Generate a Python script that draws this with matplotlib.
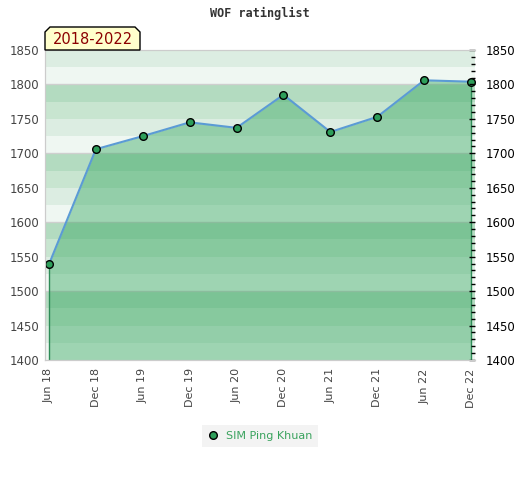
import matplotlib.pyplot as plt
from matplotlib.patches import Polygon

# data
periods = ["Jun 18", "Dec 18", "Jun 19", "Dec 19", "Jun 20",
           "Dec 20", "Jun 21", "Dec 21", "Jun 22", "Dec 22"]
ratings = [1539, 1706, 1725, 1745, 1737, 1785, 1731, 1753, 1806, 1804]
player = "SIM Ping Khuan"
span_label = "2018-2022"
y_min, y_max = 1400, 1850

# band colours by (lower edge mod 100)
band_colors = {0: "#eff7f2", 25: "#dcede2", 50: "#c8e5d0", 75: "#b3dbc0"}
fill_color = "#2ea45a"

fig = plt.figure(figsize=(5.2, 4.8), dpi=100)
ax = fig.add_axes([45 / 520, 120 / 480, 430 / 520, 310 / 480])

x = list(range(len(periods)))

# horizontal bands
for lo in range(y_min, y_max, 25):
    ax.axhspan(lo, lo + 25, color=band_colors[lo % 100], lw=0, zorder=0)
for g in range(y_min + 100, y_max, 100):
    ax.axhline(g, color="#cfcfcf", lw=1, zorder=0.5)

# area under the line
ax.fill_between(x, ratings, y_min, color=fill_color, alpha=0.42, lw=0, zorder=1)
ax.vlines([x[0], x[-1]], y_min, [ratings[0], ratings[-1]],
          color="#2e8b57", lw=1, zorder=2)
ax.plot(x, ratings, color="#5b9bd5", lw=1.5, zorder=3)
ax.plot(x, ratings, "o", ms=5.5, mfc="#2e9e5a", mec="black", mew=1,
        zorder=4, label=player)

ax.set_xlim(-0.085, len(periods) - 1 + 0.085)
ax.set_ylim(y_min, y_max)
ax.set_xticks(x)
ax.set_xticklabels(periods, rotation=90, fontsize=8, color="#444444")
ax.set_yticks(range(y_min, y_max + 1, 50))
ax.tick_params(axis="x", length=0, pad=6)
ax.tick_params(axis="y", length=0, labelsize=8.5, labelcolor="#444444", pad=4)

# right axis with minor ticks
ax2 = ax.twinx()
ax2.set_ylim(y_min, y_max)
ax2.set_yticks(range(y_min, y_max + 1, 50))
ax2.set_yticks(range(y_min, y_max + 1, 10), minor=True)
ax2.tick_params(axis="y", which="major", direction="in", length=4, width=1,
                labelsize=8.5, labelcolor="black", pad=8)
ax2.tick_params(axis="y", which="minor", direction="in", length=3, width=1)

for a in (ax, ax2):
    for side in ("top", "left", "bottom"):
        a.spines[side].set_color("#cccccc")
    a.spines["right"].set_visible(False)

fig.text(0.5, 1 - 13 / 480, "WOF ratinglist", ha="center", va="center",
         family="DejaVu Sans Mono", fontweight="bold", fontsize=8.5,
         color="#333333")

# span label box with clipped top corners
bx0, bx1, by0, by1, c = 45, 140, 50, 27, 5
pts = [(bx0, by0), (bx0, by1 + c), (bx0 + c, by1), (bx1 - c, by1),
       (bx1, by1 + c), (bx1, by0)]
pts = [(px / 520, 1 - py / 480) for px, py in pts]
fig.patches.append(Polygon(pts, closed=True, transform=fig.transFigure,
                           facecolor="#ffffcc", edgecolor="black", lw=1))
fig.text((bx0 + bx1) / 2 / 520, 1 - 40 / 480, span_label, ha="center",
         va="center", fontsize=10.5, color="#8b0000")

leg = fig.legend(loc="center", bbox_to_anchor=(260 / 520, 1 - 436 / 480),
                 frameon=True, fontsize=8, handletextpad=0.6,
                 borderpad=0.5, handlelength=1.0, fancybox=False)
leg.get_frame().set_facecolor("#f0f0f0")
leg.get_frame().set_edgecolor("none")
for t in leg.get_texts():
    t.set_color("#3aa35e")

fig.savefig("out.png", dpi=100)
